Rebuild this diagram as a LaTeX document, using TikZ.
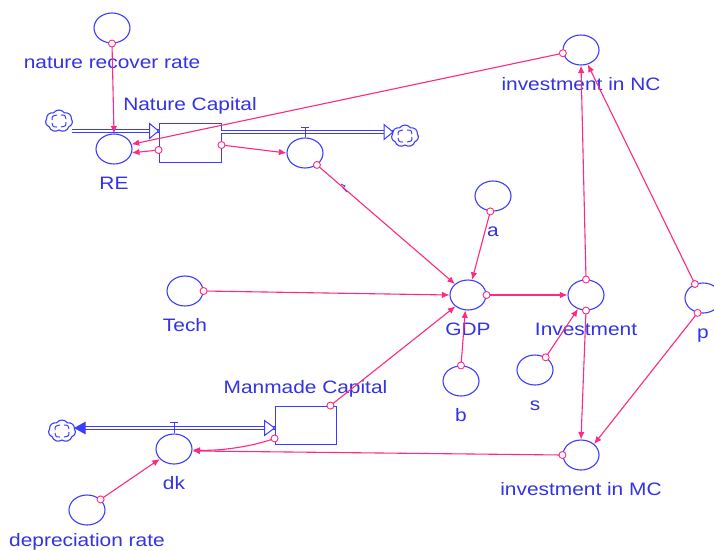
\documentclass[tikz,border=0pt]{standalone}
\usepackage{fontspec}
\setmainfont{Liberation Sans}[FakeStretch=1.16]
\usetikzlibrary{shapes.geometric,shapes.symbols,arrows.meta,calc}
\definecolor{vblue}{RGB}{60,60,255}
\definecolor{tblue}{RGB}{50,50,230}
\definecolor{vpink}{RGB}{255,40,130}
\tikzset{
  var/.style={ellipse, draw=vblue, line width=1.1pt, minimum width=36pt, minimum height=30pt, inner sep=0pt},
  lbl/.style={text=tblue, inner sep=0pt, font=\fontsize{18}{20}\selectfont, text height=13pt, text depth=0pt},
  every label/.style={lbl},
  label distance=11.5pt,
  stock/.style={rectangle, draw=vblue, line width=0.9pt, minimum width=62pt, minimum height=39pt, inner sep=0pt, fill=white},
  link/.style={draw=vpink, line width=1.1pt, -{Latex[length=7.5pt,width=6.5pt]}},
  dot/.style={circle, draw=vpink, fill=white, line width=0.9pt, minimum size=7pt, inner sep=0pt},
  pipe/.style={draw=vblue, double=white, double distance=2.4pt, line width=1pt},
  ptip/.style={draw=vblue, fill=white, line width=1pt},
  ftip/.style={draw=vblue, fill=vblue, line width=1pt},
  valve/.style={draw=vblue, line width=1pt},
  sky/.style={cloud, cloud puffs=7, cloud puff arc=110, aspect=1.2, draw=vblue, line width=1.1pt, minimum width=27pt, minimum height=22pt, inner sep=0pt, fill=white},
}
\newcommand\vcloudmarks[1]{%
  \draw[valve] ($(#1.center)+(-7,-1)$) .. controls +(0,-4) .. ($(#1.center)+(-2,-6)$);
  \draw[valve] ($(#1.center)+(7,1)$) .. controls +(0,4) .. ($(#1.center)+(2,6)$);
  \draw[valve] ($(#1.center)+(2,-6)$) .. controls +(4,0) .. ($(#1.center)+(7,-2)$);
  \draw[valve] ($(#1.center)+(-2,6)$) .. controls +(-4,0) .. ($(#1.center)+(-7,2)$);
}
\begin{document}
\begin{tikzpicture}[x=1pt,y=-1pt]
\useasboundingbox (0,0) rectangle (714,550);
\clip (0,0) rectangle (714,550);
\fill[white] (0,0) rectangle (714,550);

% variables and stocks
\node[var, label=below:nature recover rate] (nrr) at (112,28) {};
\node[stock, label=above:Nature Capital] (nc) at (190,142.5) {};
\node[var, label=below:RE] (re) at (114,149) {};
\node[var] (out) at (305,153) {};
\node[sky] (c1) at (59,121) {};
\node[sky] (c2) at (405,136) {};
\node[var, label=below:investment in NC] (inc) at (581,50) {};
\node[var, label=below:a] (a) at (493,196) {};
\node[var, label=below:Tech] (tech) at (185,291) {};
\node[var, label=below:GDP] (gdp) at (468,295) {};
\node[var, label=below:Investment] (inv) at (586,295) {};
\node[var, label=below:p] (p) at (703,298) {};
\node[var, label=below:b] (b) at (461,381) {};
\node[var, label=below:s] (s) at (535,370) {};
\node[stock, minimum width=61pt, minimum height=38pt, label=above:Manmade Capital] (mc) at (305.5,425) {};
\node[sky] (c3) at (62,431) {};
\node[var, label=below:dk] (dk) at (174,449) {};
\node[var, label=below:investment in MC] (imc) at (581,455) {};
\node[var, label={[label distance=8pt]below:depreciation rate}] (dep) at (87,510) {};
\vcloudmarks{c1}
\vcloudmarks{c2}
\vcloudmarks{c3}

% pipe end points
\coordinate (p1s) at (72,131);
\coordinate (p1e) at ($(nc.west)+(0,-11.5)$);
\coordinate (p2s) at ($(nc.east)+(0,-10.5)$);
\coordinate (p2e) at (393,132);
\coordinate (p3s) at ($(mc.west)+(0,3)$);
\coordinate (p3e) at (75,428);

% pipes
\draw[pipe] (p1s) -- (p1e);
\draw[pipe] (p2s) -- (p2e);
\draw[pipe] (p3s) -- ($(p3e)+(9,0)$);
\draw[ptip] (p1e) -- ++(-9,-7.5) -- ++(0,15) -- cycle;
\draw[ptip] (p2e) -- ++(-9,-7.5) -- ++(0,15) -- cycle;
\draw[ptip] (p3s) -- ++(-10,-7.5) -- ++(0,15) -- cycle;
\draw[ftip] (p3e) -- ++(10,-5.5) -- ++(0,11) -- cycle;

% valves
\draw[valve] ($(out.north)+(-4,-10)$) -- ++(8,0) ($(out.north)+(0,-10)$) -- (out.north);
\draw[valve] ($(dk.north)+(-4,-11)$) -- ++(8,0) ($(dk.north)+(0,-11)$) -- (dk.north);

% small mark on the rate link
\draw[vblue, line width=0.9pt] (341,184) -- (345,186) -- (343,188) -- (347,192);

% links
\draw[link] (nrr.south) -- (re.north) node[pos=0,dot]{};
\draw[link] (inc.190) -- (re.15) node[pos=0,dot]{};
\draw[link] ($(nc.west)+(0,7.5)$) -- (re.-12) node[pos=0,dot]{};
\draw[link] ($(nc.east)+(0,2.5)$) -- (out.180) node[pos=0,dot]{};
\draw[link] (out.-45) -- (gdp.140) node[pos=0,dot]{};
\draw[link] (tech.east) -- (gdp.180) node[pos=0,dot]{};
\draw[link] (a.-100) -- (gdp.75) node[pos=0,dot]{};
\draw[link] (b.north) -- (gdp.-100) node[pos=0,dot]{};
\draw[link] (gdp.east) -- (inv.west) node[pos=0,dot]{};
\draw[link] (s.50) -- (inv.-120) node[pos=0,dot]{};
\draw[link] (inv.north) -- (inc.south) node[pos=0,dot]{};
\draw[link] (p.120) -- (inc.-65) node[pos=0,dot]{};
\draw[link] (inv.south) -- (imc.north) node[pos=0,dot]{};
\draw[link] (p.-110) -- (imc.40) node[pos=0,dot]{};
\draw[link] (imc.west) -- (dk.-6) node[pos=0,dot]{};
\draw[link] ($(mc.south west)+(0,-6)$) .. controls +(-25,9) and +(25,1) .. (dk.-3) node[pos=0,dot]{};
\draw[link] ($(mc.north east)+(-6,0)$) -- (gdp.-138) node[pos=0,dot]{};
\draw[link] (dep.38) -- (dk.-145) node[pos=0,dot]{};
\end{tikzpicture}
\end{document}
